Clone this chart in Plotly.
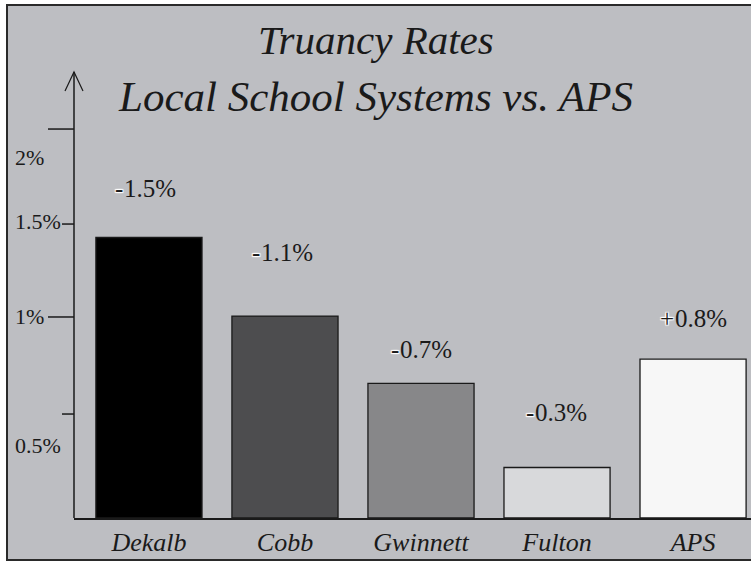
import plotly.graph_objects as go

# ---- data ----
categories = ["Dekalb", "Cobb", "Gwinnett", "Fulton", "APS"]
bar_heights = [1.50, 1.08, 0.72, 0.27, 0.85]          # bar height in % units
change_signs = ["-", "-", "-", "-", "+"]
change_values = ["1.5%", "1.1%", "0.7%", "0.3%", "0.8%"]
tick_vals = [0.556, 1.075, 1.572, 2.08]               # y positions of axis tick marks
tick_long = [False, True, False, True]
tick_labels = ["0.5%", "1%", "1.5%", "2%"]
tick_label_y = [0.39, 1.075, 1.583, 1.93]
title_lines = ["Truancy Rates", "Local School Systems vs. APS"]

# ---- styles ----
bar_colors = ["#000000", "#4d4d4f", "#878789", "#d8d9db", "#f7f7f7"]
bg = "#bdbec2"
ink = "#1a1a1a"
serif = "Liberation Serif"
label_yshift = [49, 64, 34, 55, 41]
label_xshift = [-27, -26, -23, -24, -20]
halo = "1px 1px 1px #fff, -1px -1px 1px #fff, 1px -1px 1px #fff, -1px 1px 1px #fff, 0 0 2px #fff"

W, H = 751, 563
L, R, T, B = 74, 0, 80, 45
pw, ph = W - L - R, H - T - B


def px(x):
    return (x - L) / pw


def py(y):
    return (H - B - y) / ph


fig = go.Figure()
fig.add_trace(go.Bar(
    x=categories, y=bar_heights, width=0.78,
    marker=dict(color=bar_colors, line=dict(color=ink, width=1.3)),
    hoverinfo="skip",
))

shapes = [
    dict(type="rect", xref="paper", yref="paper", x0=px(7), x1=px(780), y0=py(560), y1=py(5),
         fillcolor=bg, line=dict(color="#2a2a2a", width=2), layer="below"),
    dict(type="path", xref="paper", yref="paper",
         path=f"M {px(65)} {py(91)} L {px(74)} {py(72)} L {px(83)} {py(91)}",
         line=dict(color=ink, width=1.2)),
    dict(type="line", xref="paper", yref="paper", x0=px(74), x1=px(74), y0=py(72), y1=py(518),
         line=dict(color=ink, width=1.5)),
]
for v, lg in zip(tick_vals, tick_long):
    x0 = 48 if lg else 62
    shapes.append(dict(type="line", xref="paper", yref="y", x0=px(x0), x1=px(74), y0=v, y1=v,
                       line=dict(color=ink, width=1.5)))

annotations = []
for i, (line, cy, sz) in enumerate(zip(title_lines, [40, 97], [41, 43])):
    annotations.append(dict(xref="paper", yref="paper", x=px(375.5), y=py(cy), text=line,
                            showarrow=False, xanchor="center", yanchor="middle",
                            font=dict(family=serif, size=sz, color=ink, style="italic")))
for lab, yv in zip(tick_labels, tick_label_y):
    annotations.append(dict(xref="paper", yref="y", x=px(13), y=yv, text=lab, showarrow=False,
                            xanchor="left", yanchor="middle", font=dict(family=serif, size=22, color=ink)))
for i, (c, h, s, v) in enumerate(zip(categories, bar_heights, change_signs, change_values)):
    split = label_xshift[i]
    annotations.append(dict(
        x=c, y=h, yshift=label_yshift[i], xshift=split, showarrow=False, xanchor="left", yanchor="middle",
        text=v, font=dict(family=serif, size=25, color=ink)))
    annotations.append(dict(
        x=c, y=h, yshift=label_yshift[i], xshift=split + 3, showarrow=False, xanchor="right", yanchor="middle",
        text=s, font=dict(family=serif, size=25, color=ink, shadow=halo)))

fig.update_layout(
    width=W, height=H,
    margin=dict(l=L, r=R, t=T, b=B),
    paper_bgcolor="white", plot_bgcolor="rgba(0,0,0,0)",
    showlegend=False,
    font=dict(family=serif),
    xaxis=dict(range=[-0.551, 4.426], showgrid=False, zeroline=False, showline=True,
               linecolor=ink, linewidth=1.5, ticks="", tickfont=dict(family=serif, size=26, color=ink, style="italic"),
               fixedrange=True),
    yaxis=dict(range=[0, ph / 187], showgrid=False, zeroline=False, showline=False,
               showticklabels=False, ticks="", fixedrange=True),
    shapes=shapes, annotations=annotations,
)
fig.write_html("out.html")
